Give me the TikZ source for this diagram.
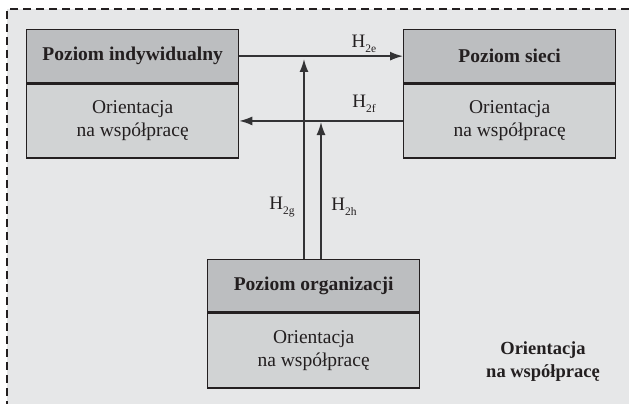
\documentclass[tikz,border=0pt]{standalone}
\usepackage{fontspec}
\setmainfont{Liberation Serif}
\usetikzlibrary{arrows.meta}
\definecolor{bg}{HTML}{E6E7E8}
\definecolor{headfill}{HTML}{BCBEC0}
\definecolor{bodyfill}{HTML}{D1D3D4}
\definecolor{ink}{HTML}{231F20}
\definecolor{lineink}{HTML}{333335}
\newcommand{\hsub}[1]{H\raisebox{-0.55ex}{\fontsize{11.5}{12}\selectfont #1}}
\tikzset{
  hdr/.style={draw=ink, line width=1.3pt, fill=headfill, minimum width=212pt, minimum height=53pt, inner sep=0pt, font=\fontsize{19.5}{22}\selectfont\bfseries, text=ink},
  bdy/.style={draw=ink, line width=1.3pt, fill=bodyfill, minimum width=212pt, minimum height=74pt, inner sep=0pt, align=center, font=\fontsize{19.5}{23}\selectfont, text=ink},
  conn/.style={draw=lineink, line width=1.6pt, -{Latex[length=13pt,width=9pt]}},
  lbl/.style={font=\fontsize{19}{22}\selectfont, text=ink, inner sep=0pt}
}
\begin{document}
\begin{tikzpicture}[x=1pt,y=-1pt]
\useasboundingbox (0,0) rectangle (629,404);
\fill[bg] (7,9) rectangle (629,404);
\draw[ink, line width=1.2pt, dash pattern=on 8pt off 5pt] (629,9) -- (7,9) -- (7,404);

\node[hdr, anchor=north west] (b1h) at (26,29) {Poziom indywidualny};
\node[bdy, anchor=north] (b1b) at (b1h.south) {Orientacja\\na współpracę};
\node[hdr, anchor=north west] (b2h) at (403,29) {Poziom sieci};
\node[bdy, anchor=north] (b2b) at (b2h.south) {Orientacja\\na współpracę};
\node[hdr, anchor=north west, minimum height=52pt] (b3h) at (207,259) {Poziom organizacji};
\node[bdy, anchor=north, minimum height=75pt] (b3b) at (b3h.south) {Orientacja\\na współpracę};

\coordinate (g1) at (304,59);
\coordinate (h1) at (321,122);

\draw[conn] (b1h.east) -- (b2h.west);
\draw[conn] (b2b.west) -- (b1b.east);
\draw[conn] (b3h.north -| g1) -- (g1);
\draw[conn] (b3h.north -| h1) -- (h1);

\node[lbl] (le) at (364,44) {\hsub{2e}};
\node[lbl] (lf) at (364,104) {\hsub{2f}};
\node[lbl] (lg) at (282,207) {\hsub{2g}};
\node[lbl] (lh) at (344,207) {\hsub{2h}};

\node[align=center, font=\fontsize{18.5}{23}\selectfont\bfseries, text=ink, inner sep=0pt] (orient) at (543,362) {Orientacja\\na współpracę};
\end{tikzpicture}
\end{document}
